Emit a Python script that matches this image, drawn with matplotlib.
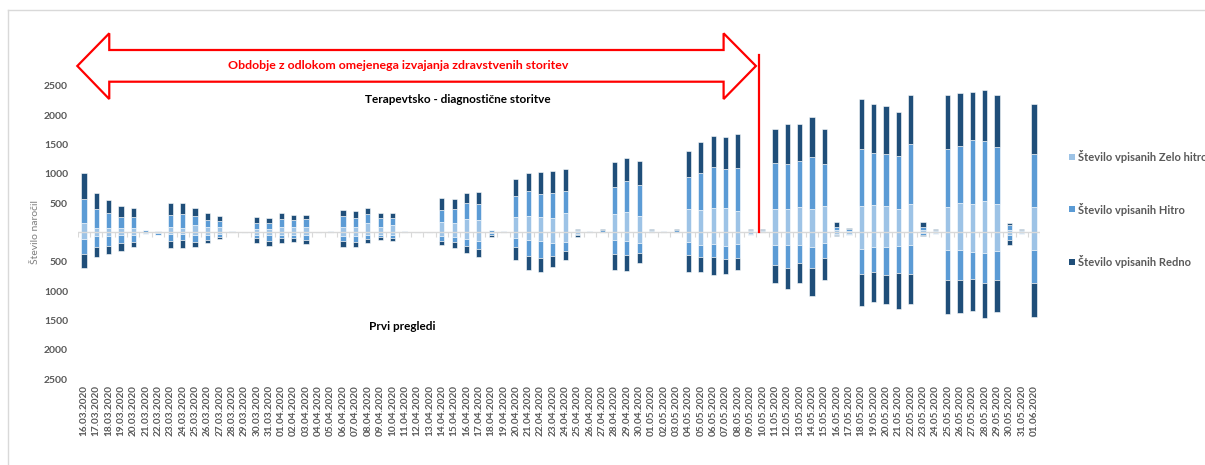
import numpy as np
import pandas as pd
import matplotlib
matplotlib.use('Agg')
import matplotlib.pyplot as plt
from matplotlib.patches import Polygon, Rectangle
from matplotlib.lines import Line2D

plt.rcParams['font.family'] = ['Lato', 'DejaVu Sans']

# dnevi od 16.03.2020 do 01.06.2020
dates = pd.date_range('2020-03-16', '2020-06-01').strftime('%d.%m.%Y').tolist()

# Terapevtsko - diagnostične storitve (nad osjo)
td_zelo_hitro = [156, 75, 75, 70, 80, 15, 10, 90, 80, 120, 90, 90, 10, 5, 65, 60, 90, 90, 100, 10,
                 10, 95, 95, 170, 100, 120, 15, 5, 5, 180, 170, 230, 210, 15, 10, 270, 285, 260, 240, 340,
                 20, 10, 15, 315, 350, 280, 20, 10, 15, 395, 385, 410, 420, 370, 20, 20, 400, 405, 430, 395,
                 455, 50, 30, 450, 465, 450, 395, 485, 40, 25, 440, 495, 485, 540, 485, 50, 25, 440]
td_hitro = [414, 325, 265, 200, 190, 30, 10, 210, 235, 160, 115, 105, 10, 5, 95, 95, 140, 120, 125, 5,
            10, 190, 155, 145, 140, 135, 10, 5, 5, 205, 230, 275, 270, 25, 10, 350, 430, 400, 435, 370,
            25, 15, 20, 455, 530, 525, 25, 15, 25, 545, 620, 710, 660, 735, 30, 25, 785, 770, 780, 885,
            710, 50, 30, 965, 890, 895, 910, 1030, 60, 25, 980, 980, 1090, 1015, 975, 80, 25, 895]
td_redno = [447, 271, 220, 175, 140, 5, 0, 200, 190, 140, 120, 85, 5, 0, 100, 90, 105, 85, 80, 0,
            5, 100, 115, 95, 100, 85, 0, 0, 0, 205, 165, 160, 215, 5, 5, 290, 305, 370, 375, 365,
            10, 5, 20, 425, 385, 405, 10, 5, 15, 450, 530, 515, 545, 575, 10, 10, 585, 680, 645, 680,
            590, 85, 10, 850, 840, 805, 750, 825, 80, 10, 925, 905, 810, 870, 890, 25, 10, 845]

# Prvi pregledi (pod osjo)
pp_zelo_hitro = [110, 60, 60, 50, 50, 10, 15, 30, 30, 40, 40, 30, 5, 5, 40, 50, 40, 40, 45, 5,
                 5, 55, 60, 40, 40, 40, 10, 5, 5, 65, 75, 115, 140, 15, 5, 100, 130, 140, 180, 165,
                 20, 5, 5, 130, 140, 175, 15, 5, 5, 155, 210, 195, 230, 195, 20, 10, 210, 215, 220, 250,
                 185, 20, 20, 285, 240, 250, 230, 210, 15, 15, 300, 300, 335, 345, 310, 40, 15, 300]
pp_hitro = [261, 180, 170, 135, 105, 10, 25, 110, 100, 115, 80, 40, 0, 0, 60, 95, 55, 60, 85, 0,
            0, 90, 105, 75, 45, 50, 0, 0, 0, 75, 90, 115, 145, 30, 0, 155, 275, 300, 220, 155,
            30, 0, 0, 235, 240, 170, 0, 0, 0, 225, 215, 225, 225, 245, 20, 5, 340, 395, 300, 360,
            255, 20, 15, 420, 425, 470, 455, 500, 20, 10, 510, 510, 460, 510, 500, 85, 10, 565]
pp_redno = [227, 175, 140, 130, 100, 0, 5, 130, 130, 90, 65, 45, 0, 0, 80, 85, 80, 65, 70, 0,
            0, 95, 75, 70, 40, 55, 0, 0, 0, 70, 95, 125, 135, 35, 0, 210, 230, 230, 180, 145,
            20, 0, 0, 270, 270, 170, 0, 0, 0, 295, 250, 310, 250, 195, 5, 0, 315, 355, 340, 470,
            370, 25, 5, 540, 520, 500, 620, 510, 20, 5, 580, 555, 535, 595, 550, 85, 0, 580]

series_names = ['Število vpisanih Zelo hitro', 'Število vpisanih Hitro', 'Število vpisanih Redno']
colors = ['#9DC3E6', '#5B9BD5', '#1F4E79']

W, H = 1205, 465
fig = plt.figure(figsize=(W / 100, H / 100), dpi=100)
ax = fig.add_axes([77.8 / W, 1 - 379.3 / H, (1040.2 - 77.8) / W, (379.3 - 85.7) / H])

x = np.arange(len(dates))
width = 0.42
up = [np.array(td_zelo_hitro), np.array(td_hitro), np.array(td_redno)]
down = [np.array(pp_zelo_hitro), np.array(pp_hitro), np.array(pp_redno)]

base = np.zeros(len(dates))
for vals, c in zip(up, colors):
    ax.bar(x, vals, width, bottom=base, color=c, edgecolor='white', linewidth=0.4, zorder=2)
    base = base + vals
base = np.zeros(len(dates))
for vals, c in zip(down, colors):
    ax.bar(x, -vals, width, bottom=base, color=c, edgecolor='white', linewidth=0.4, zorder=2)
    base = base - vals

# vodoravna os pri nič z oznakami med kategorijami
ax.axhline(0, color='#d9d9d9', lw=1.0, zorder=3)
ax.vlines(np.arange(-0.5, len(dates)), -75, 0, color='#d9d9d9', lw=0.8, zorder=3)

ax.set_xlim(-0.5, len(dates) - 0.5)
ax.set_ylim(-2500, 2500)
yt = np.arange(-2500, 2501, 500)
ax.set_yticks(yt)
ax.set_yticklabels([str(abs(v)) if v != 0 else '' for v in yt])
ax.set_xticks(x)
ax.set_xticklabels(dates, rotation=90)
ax.tick_params(axis='x', length=0, pad=4, labelsize=7.2, labelcolor='#595959')
ax.tick_params(axis='y', length=0, pad=7, labelsize=7.5, labelcolor='#595959')
for lab in ax.get_xticklabels() + ax.get_yticklabels():
    lab.set_fontweight('bold')
for s in ax.spines.values():
    s.set_visible(False)

ax.set_ylabel('Število naročil', fontsize=7.5, color='#7f7f7f', labelpad=3)

ax.text(30.3, 2273, 'Terapevtsko - diagnostične storitve', ha='center', va='center',
        fontsize=8.5, fontweight='bold', color='black')
ax.text(25.8, -1609, 'Prvi pregledi', ha='center', va='center',
        fontsize=8.5, fontweight='bold', color='black')

# dvosmerna puščica za obdobje odloka
arrow = [(-0.54, 2836), (2.05, 3392), (2.05, 3108), (51.84, 3108), (51.84, 3392),
         (54.46, 2836), (51.84, 2273), (51.84, 2568), (2.05, 2568), (2.05, 2273)]
ax.add_patch(Polygon(arrow, closed=True, facecolor='white', edgecolor='#FF0000',
                     lw=1.6, clip_on=False, zorder=4, joinstyle='miter'))
ax.text(25.5, 2836, 'Obdobje z odlokom omejenega izvajanja zdravstvenih storitev',
        ha='center', va='center', fontsize=8.9, fontweight='bold', color='#FF0000', zorder=5)
ax.plot([54.68, 54.68], [3023, 0], color='#FF0000', lw=1.6, clip_on=False, zorder=5)

# legenda desno
for i, (name, c) in enumerate(zip(series_names, colors)):
    yc = 156.7 + i * 52.5
    fig.patches.append(Rectangle((1069 / W, 1 - (yc + 3) / H), 6 / W, 6 / H,
                                 transform=fig.transFigure, facecolor=c, edgecolor='none'))
    fig.text(1078 / W, 1 - yc / H, name, ha='left', va='center', fontsize=8,
             fontweight='bold', color='#595959')

# okvir grafikona
fig.lines.append(Line2D([8.3 / W, 8.3 / W], [1 - 10 / H, 0], transform=fig.transFigure,
                        color='#d9d9d9', lw=1))
fig.lines.append(Line2D([8.3 / W, 1], [1 - 10 / H, 1 - 10 / H], transform=fig.transFigure,
                        color='#d9d9d9', lw=1))

fig.savefig('out.png', dpi=100)
